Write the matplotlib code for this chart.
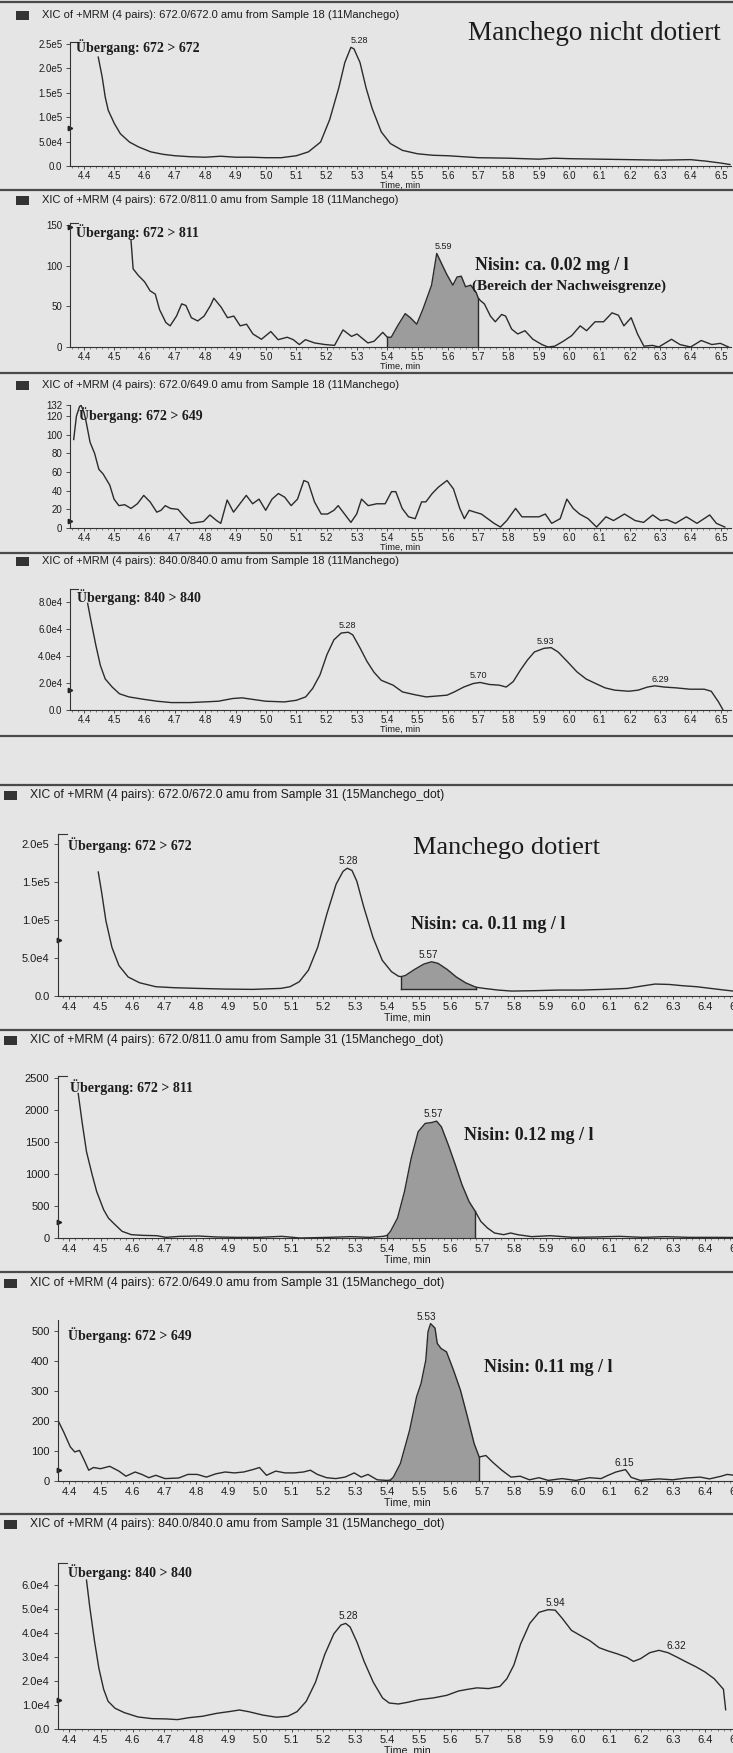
import numpy as np
import matplotlib
matplotlib.use('Agg')
import matplotlib.pyplot as plt
import matplotlib.ticker as mticker
import matplotlib.patches as mpatches
from matplotlib.lines import Line2D

# ---- traces: (time [min], intensity in units of the scale) ----
# Manchego nicht dotiert, 672 > 672 (x 1e3 cps)
trace_nd_672 = [(4.447, 223), (4.46, 182), (4.47, 141), (4.48, 114), (4.50, 87), (4.52, 66), (4.55, 49),
                (4.58, 39), (4.62, 29), (4.66, 24), (4.70, 21), (4.75, 19), (4.80, 18), (4.85, 20), (4.90, 18),
                (4.95, 18), (5.00, 17), (5.05, 17), (5.10, 21), (5.14, 29), (5.18, 49), (5.21, 95), (5.24, 160),
                (5.26, 212), (5.28, 243), (5.29, 240), (5.31, 212), (5.33, 160), (5.35, 118), (5.38, 70),
                (5.41, 46), (5.45, 32), (5.50, 25), (5.55, 22), (5.60, 21), (5.70, 17), (5.80, 16), (5.90, 14),
                (5.95, 16), (6.00, 15), (6.10, 14), (6.20, 13), (6.30, 12), (6.40, 13), (6.45, 10), (6.50, 6),
                (6.53, 3)]
# 672 > 811 (cps)
trace_nd_811 = [(4.555, 131), (4.562, 96), (4.579, 88), (4.60, 80), (4.618, 69), (4.635, 65), (4.649, 46),
                (4.67, 30), (4.684, 26), (4.705, 38), (4.722, 53), (4.736, 51), (4.754, 36), (4.775, 32),
                (4.796, 38), (4.817, 51), (4.828, 60), (4.852, 49), (4.873, 36), (4.894, 38), (4.915, 26),
                (4.936, 28), (4.957, 16), (4.985, 9.5), (5.016, 19), (5.04, 9), (5.07, 12), (5.09, 9),
                (5.11, 3), (5.13, 9), (5.16, 5), (5.195, 3), (5.226, 2), (5.254, 21), (5.282, 13), (5.30, 16),
                (5.336, 5), (5.356, 7), (5.385, 18), (5.40, 12), (5.413, 12), (5.434, 26), (5.459, 41),
                (5.476, 36), (5.497, 28), (5.518, 47), (5.546, 76), (5.563, 115), (5.595, 90), (5.616, 76),
                (5.63, 86), (5.644, 87), (5.658, 74), (5.675, 76), (5.693, 67), (5.70, 60), (5.707, 57),
                (5.72, 53), (5.74, 38), (5.756, 31), (5.777, 40), (5.79, 38), (5.81, 22), (5.83, 16),
                (5.854, 20), (5.88, 9.5), (5.91, 3), (5.93, 0), (5.952, 1), (5.98, 7), (6.008, 14),
                (6.036, 26), (6.057, 20), (6.085, 31), (6.113, 31), (6.141, 42), (6.162, 39), (6.18, 26),
                (6.204, 36), (6.225, 16), (6.246, 1), (6.274, 2), (6.295, 0), (6.337, 9.5), (6.365, 3),
                (6.40, 0), (6.435, 8), (6.47, 3), (6.498, 4.5), (6.525, 0)]
# 672 > 649 (cps)
trace_nd_649 = [(4.366, 95), (4.375, 120), (4.385, 130), (4.39, 132), (4.40, 124), (4.407, 114), (4.42, 92),
                (4.435, 80), (4.449, 63), (4.463, 58), (4.485, 46), (4.499, 31), (4.515, 24), (4.534, 25),
                (4.555, 21), (4.576, 26), (4.597, 35), (4.618, 28), (4.64, 17), (4.654, 19), (4.668, 24),
                (4.685, 21), (4.71, 20), (4.731, 12), (4.752, 5), (4.773, 6), (4.794, 7), (4.815, 14),
                (4.837, 8), (4.851, 5), (4.872, 30), (4.893, 17), (4.914, 26), (4.935, 35), (4.956, 26),
                (4.977, 31), (4.999, 19), (5.02, 31), (5.041, 37), (5.062, 33), (5.083, 24), (5.104, 31),
                (5.125, 51), (5.139, 49), (5.16, 28), (5.182, 15), (5.203, 15), (5.224, 19), (5.238, 24),
                (5.259, 15), (5.28, 6), (5.299, 15), (5.315, 31), (5.337, 24), (5.365, 26), (5.393, 26),
                (5.414, 39), (5.428, 39), (5.449, 21), (5.47, 12), (5.492, 10), (5.513, 28), (5.527, 28),
                (5.548, 37), (5.569, 44), (5.597, 51), (5.618, 42), (5.639, 21), (5.654, 10), (5.67, 19),
                (5.689, 17), (5.71, 15), (5.731, 10), (5.752, 5), (5.773, 1), (5.794, 8), (5.823, 21),
                (5.844, 12), (5.872, 12), (5.9, 12), (5.921, 15), (5.942, 5), (5.97, 10), (5.992, 31),
                (6.013, 21), (6.034, 15), (6.062, 10), (6.09, 1), (6.121, 12), (6.146, 8), (6.182, 15),
                (6.217, 8), (6.245, 6), (6.275, 14), (6.301, 8), (6.322, 9), (6.35, 5), (6.386, 12),
                (6.421, 5), (6.463, 14), (6.485, 5), (6.513, 1)]
# 840 > 840 (x 1e4 cps)
trace_nd_840 = [(4.412, 7.9), (4.423, 6.6), (4.439, 4.8), (4.454, 3.3), (4.47, 2.3), (4.493, 1.7), (4.517, 1.2),
                (4.548, 0.97), (4.594, 0.8), (4.641, 0.65), (4.688, 0.55), (4.75, 0.55), (4.797, 0.6),
                (4.843, 0.65), (4.89, 0.85), (4.921, 0.9), (4.952, 0.8), (4.999, 0.65), (5.061, 0.6),
                (5.1, 0.72), (5.131, 0.97), (5.154, 1.6), (5.178, 2.6), (5.201, 4.1), (5.224, 5.2),
                (5.248, 5.7), (5.271, 5.76), (5.286, 5.57), (5.31, 4.6), (5.333, 3.6), (5.356, 2.8),
                (5.38, 2.2), (5.419, 1.84), (5.45, 1.34), (5.489, 1.14), (5.528, 0.97), (5.566, 1.04),
                (5.597, 1.1), (5.621, 1.34), (5.652, 1.7), (5.683, 1.96), (5.706, 2.04), (5.737, 1.89),
                (5.769, 1.84), (5.792, 1.7), (5.815, 2.1), (5.839, 2.96), (5.862, 3.7), (5.885, 4.3),
                (5.917, 4.57), (5.94, 4.62), (5.963, 4.3), (5.994, 3.58), (6.025, 2.83), (6.056, 2.29),
                (6.087, 1.96), (6.118, 1.64), (6.15, 1.47), (6.196, 1.39), (6.227, 1.47), (6.258, 1.7),
                (6.282, 1.79), (6.313, 1.7), (6.352, 1.64), (6.398, 1.54), (6.445, 1.54), (6.468, 1.39),
                (6.492, 0.6), (6.507, 0.0)]

# Manchego dotiert, 672 > 672 (x 1e4 cps)
trace_d_672 = [(4.492, 16.3), (4.502, 13.8), (4.516, 9.9), (4.535, 6.4), (4.557, 4.0), (4.586, 2.5),
               (4.622, 1.74), (4.673, 1.22), (4.731, 1.09), (4.804, 1.0), (4.891, 0.91), (4.978, 0.87),
               (5.066, 1.0), (5.095, 1.22), (5.124, 1.87), (5.153, 3.4), (5.182, 6.4), (5.211, 10.8),
               (5.24, 14.7), (5.262, 16.4), (5.275, 16.8), (5.29, 16.5), (5.305, 15.1), (5.327, 11.7),
               (5.356, 7.7), (5.385, 4.7), (5.414, 3.2), (5.436, 2.6), (5.445, 2.55), (5.458, 2.7),
               (5.487, 3.5), (5.516, 4.2), (5.54, 4.5), (5.56, 4.3), (5.589, 3.5), (5.618, 2.5),
               (5.647, 1.74), (5.68, 1.15), (5.705, 1.0), (5.749, 0.78), (5.792, 0.65), (5.865, 0.7),
               (5.938, 0.78), (6.01, 0.78), (6.083, 0.87), (6.156, 1.0), (6.2, 1.3), (6.243, 1.57),
               (6.287, 1.52), (6.33, 1.35), (6.374, 1.22), (6.417, 1.0), (6.461, 0.78), (6.5, 0.6)]
# 672 > 811 (cps)
trace_d_811 = [(4.429, 2256), (4.441, 1815), (4.455, 1348), (4.473, 985), (4.487, 726), (4.509, 441),
               (4.524, 311), (4.545, 207), (4.567, 104), (4.596, 52), (4.633, 41), (4.676, 36), (4.705, 10),
               (4.749, 26), (4.807, 31), (4.865, 16), (4.924, 10), (4.996, 10), (5.069, 26), (5.127, 0),
               (5.215, 10), (5.287, 21), (5.345, 10), (5.389, 26), (5.40, 40), (5.411, 104), (5.433, 311),
               (5.455, 726), (5.476, 1245), (5.498, 1660), (5.52, 1789), (5.542, 1805), (5.556, 1825),
               (5.571, 1737), (5.593, 1452), (5.615, 1141), (5.636, 830), (5.658, 570), (5.677, 420),
               (5.695, 259), (5.716, 156), (5.738, 78), (5.767, 52), (5.789, 78), (5.811, 52), (5.855, 21),
               (5.913, 36), (5.985, 10), (6.058, 16), (6.131, 26), (6.204, 10), (6.276, 21), (6.349, 10),
               (6.436, 10), (6.5, 8)]
# 672 > 649 (cps)
trace_d_649 = [(4.365, 203), (4.383, 164), (4.404, 114), (4.418, 97), (4.433, 102), (4.448, 69), (4.462, 36),
               (4.477, 45), (4.499, 41), (4.528, 49), (4.557, 33), (4.579, 16), (4.608, 30), (4.629, 22),
               (4.651, 11), (4.673, 19), (4.702, 8), (4.745, 10), (4.774, 22), (4.803, 22), (4.832, 13),
               (4.862, 24), (4.891, 30), (4.92, 27), (4.949, 30), (4.978, 38), (4.999, 45), (5.021, 19),
               (5.05, 33), (5.079, 27), (5.108, 27), (5.137, 30), (5.159, 36), (5.181, 22), (5.21, 11),
               (5.239, 8), (5.268, 13), (5.297, 27), (5.319, 13), (5.34, 22), (5.369, 4), (5.399, 2),
               (5.41, 3), (5.42, 13), (5.442, 58), (5.471, 169), (5.493, 281), (5.507, 325), (5.522, 403),
               (5.529, 498), (5.537, 525), (5.551, 510), (5.558, 459), (5.57, 442), (5.587, 431),
               (5.609, 370), (5.631, 303), (5.653, 214), (5.674, 125), (5.69, 80), (5.711, 85), (5.732, 63),
               (5.761, 36), (5.79, 13), (5.819, 16), (5.848, 4), (5.878, 11), (5.907, 2), (5.95, 8),
               (5.994, 2), (6.037, 11), (6.073, 8), (6.095, 19), (6.12, 30), (6.15, 38), (6.168, 12),
               (6.197, 2), (6.255, 7), (6.298, 4), (6.342, 10), (6.385, 13), (6.414, 7), (6.451, 16),
               (6.47, 22), (6.5, 18)]
# 840 > 840 (x 1e4 cps)
trace_d_840 = [(4.455, 6.19), (4.465, 5.1), (4.48, 3.67), (4.494, 2.52), (4.509, 1.65), (4.523, 1.15),
               (4.545, 0.86), (4.574, 0.68), (4.617, 0.5), (4.661, 0.43), (4.704, 0.42), (4.741, 0.39),
               (4.777, 0.47), (4.82, 0.53), (4.864, 0.65), (4.907, 0.73), (4.936, 0.79), (4.965, 0.72),
               (5.009, 0.58), (5.052, 0.49), (5.088, 0.53), (5.117, 0.72), (5.146, 1.15), (5.175, 1.94),
               (5.204, 3.09), (5.233, 3.96), (5.255, 4.32), (5.27, 4.39), (5.284, 4.24), (5.306, 3.6),
               (5.328, 2.81), (5.357, 1.94), (5.386, 1.29), (5.407, 1.08), (5.436, 1.04), (5.465, 1.11),
               (5.501, 1.22), (5.545, 1.29), (5.588, 1.4), (5.625, 1.58), (5.654, 1.65), (5.683, 1.71),
               (5.719, 1.68), (5.755, 1.77), (5.777, 2.09), (5.799, 2.66), (5.82, 3.53), (5.849, 4.39),
               (5.878, 4.85), (5.907, 4.96), (5.929, 4.94), (5.951, 4.6), (5.98, 4.1), (6.009, 3.88),
               (6.038, 3.67), (6.067, 3.38), (6.096, 3.24), (6.125, 3.12), (6.154, 2.98), (6.175, 2.81),
               (6.197, 2.92), (6.226, 3.17), (6.255, 3.27), (6.284, 3.17), (6.313, 2.98), (6.342, 2.78),
               (6.371, 2.59), (6.4, 2.37), (6.429, 2.09), (6.458, 1.65), (6.465, 0.8)]

# peak labels (retention time text, time of peak)
peaks_nd_672 = [('5.28', 5.28)]
peaks_nd_811 = [('5.59', 5.585)]
peaks_nd_840 = [('5.28', 5.27), ('5.70', 5.70), ('5.93', 5.92), ('6.29', 6.30)]
peaks_d_672 = [('5.28', 5.277), ('5.57', 5.53)]
peaks_d_811 = [('5.57', 5.545)]
peaks_d_649 = [('5.53', 5.525), ('6.15', 6.145)]
peaks_d_840 = [('5.28', 5.277), ('5.94', 5.928), ('6.32', 6.31)]

# headers
header_nd = ['XIC of +MRM (4 pairs): 672.0/672.0 amu from Sample 18 (11Manchego)',
             'XIC of +MRM (4 pairs): 672.0/811.0 amu from Sample 18 (11Manchego)',
             'XIC of +MRM (4 pairs): 672.0/649.0 amu from Sample 18 (11Manchego)',
             'XIC of +MRM (4 pairs): 840.0/840.0 amu from Sample 18 (11Manchego)']
header_d = ['XIC of +MRM (4 pairs): 672.0/672.0 amu from Sample 31 (15Manchego_dot)',
            'XIC of +MRM (4 pairs): 672.0/811.0 amu from Sample 31 (15Manchego_dot)',
            'XIC of +MRM (4 pairs): 672.0/649.0 amu from Sample 31 (15Manchego_dot)',
            'XIC of +MRM (4 pairs): 840.0/840.0 amu from Sample 31 (15Manchego_dot)']

W = 733
H = 1753
sSans = ['Liberation Sans', 'DejaVu Sans']
sSerif = ['Liberation Serif', 'DejaVu Serif']
cLine = '#2b2b2b'
cFill = '#9c9c9c'
cText = '#1c1c1c'

fig = plt.figure(figsize=(W / 100.0, H / 100.0), dpi=100)
fig.patch.set_facecolor('#e5e5e5')


def fy(y):
    return 1.0 - y / H


def ftext(x, y, s, **kw):
    fig.text(x / W, fy(y), s, va='center', ha='left', color=cText, **kw)


def sep_line(y):
    fig.add_artist(Line2D([0, 1], [fy(y), fy(y)], transform=fig.transFigure, color='#4a4a4a', lw=1.6))


def header(y, xbox, s, size):
    fig.add_artist(mpatches.Rectangle((xbox / W, fy(y + 4.5)), 13.0 / W, 9.0 / H,
                                      transform=fig.transFigure, color='#333333', lw=0))
    ftext(xbox + 26, y, s, fontsize=size, family=sSans)


def panel(trace, dScale, dLeft, dPxMin, aXlim, dY0, dYtop, dYmax, aYtick, aYlabel, dFont, dPad,
          dMark, bFlag=True):
    dRight = dLeft + (aXlim[1] - aXlim[0]) * dPxMin
    ax = fig.add_axes([dLeft / W, fy(dY0), (dRight - dLeft) / W, (dY0 - dYtop) / H])
    ax.set_facecolor('none')
    aT = np.array([p[0] for p in trace])
    aV = np.array([p[1] for p in trace]) * dScale
    ax.plot(aT, aV, color=cLine, lw=1.0)
    ax.set_xlim(aXlim)
    ax.set_ylim(0, dYmax)
    for s in ['top', 'right']:
        ax.spines[s].set_visible(False)
    for s in ['left', 'bottom']:
        ax.spines[s].set_color('#333333')
        ax.spines[s].set_linewidth(0.8)
    ax.xaxis.set_major_locator(mticker.MultipleLocator(0.1))
    ax.xaxis.set_minor_locator(mticker.MultipleLocator(0.02))
    ax.xaxis.set_major_formatter(mticker.FormatStrFormatter('%.1f'))
    ax.set_yticks(aYtick)
    ax.set_yticklabels(aYlabel)
    ax.tick_params(axis='both', which='major', labelsize=dFont, width=0.6,
                   colors='#333333', labelcolor=cText)
    ax.tick_params(axis='x', which='major', length=2.5, pad=dPad)
    ax.tick_params(axis='y', which='major', length=3.0, pad=dPad + 1.5)
    ax.tick_params(axis='x', which='minor', length=1.3, width=0.5, colors='#555555')
    for lab in ax.get_xticklabels() + ax.get_yticklabels():
        lab.set_family(sSans)
    ax.set_xlabel('Time, min', fontsize=dFont - 0.3, family=sSans, color=cText, labelpad=0.3)
    ax.plot([aXlim[0]], [dMark], marker='>', ms=3.2, color='#222222', clip_on=False)
    if bFlag:
        ax.plot([0, 8.0 / (dRight - dLeft)], [1, 1], transform=ax.transAxes, color='#333333', lw=0.8,
                clip_on=False)
    return ax, aT, aV


def shade(ax, aT, aV, t0, t1, dBase):
    m = (aT >= t0 - 1e-9) & (aT <= t1 + 1e-9)
    ax.fill_between(aT[m], aV[m], dBase, color=cFill, lw=0)
    ax.plot([t0, t0], [dBase, aV[m][0]], color=cLine, lw=1.0)
    ax.plot([t1, t1], [dBase, aV[m][-1]], color=cLine, lw=1.0)
    if dBase > 0:
        ax.plot([t0, t1], [dBase, dBase], color=cLine, lw=1.0)


def peak_labels(ax, aT, aV, aPeaks, dFont, sHa='center'):
    for sLab, t in aPeaks:
        v = aV[np.abs(aT - t) < 0.03].max()
        ax.annotate(sLab, (t, v), xytext=(0, 1.5), textcoords='offset points', ha=sHa, va='bottom',
                    fontsize=dFont, family=sSans, color=cText)


# ---------------- upper block: Manchego nicht dotiert ----------------
px_top = 303.3
xlim_top = (4.4 - 14.0 / px_top, 4.4 + (731.0 - 84.0) / px_top)
for y in [2, 190, 373, 553, 736]:
    sep_line(y)
for y, s in zip([15, 200, 385, 561], header_nd):
    header(y, 16, s, 8.0)

ax, aT, aV = panel(trace_nd_672, 1e3, 70, px_top, xlim_top, 166, 41.5, 2.55e5,
                   [0, 5e4, 1e5, 1.5e5, 2e5, 2.5e5], ['0.0', '5.0e4', '1.0e5', '1.5e5', '2.0e5', '2.5e5'],
                   7.0, 1.0, 0.78e5)
peak_labels(ax, aT, aV, peaks_nd_672, 6.5, 'left')
ftext(76, 47, 'Übergang: 672 > 672', fontsize=10, family=sSerif, weight='bold')
ftext(468, 33, 'Manchego nicht dotiert', fontsize=19.5, family=sSerif)

ax, aT, aV = panel(trace_nd_811, 1.0, 70, px_top, xlim_top, 347, 222.5, 153,
                   [0, 50, 100, 150], ['0', '50', '100', '150'], 7.0, 1.0, 148)
shade(ax, aT, aV, 5.40, 5.70, 0)
peak_labels(ax, aT, aV, peaks_nd_811, 6.5)
ftext(76, 232, 'Übergang: 672 > 811', fontsize=10, family=sSerif, weight='bold')
ftext(475, 265, 'Nisin: ca. 0.02 mg / l', fontsize=12.8, family=sSerif, weight='bold')
ftext(472, 286, '(Bereich der Nachweisgrenze)', fontsize=11.0, family=sSerif, weight='bold')

ax, aT, aV = panel(trace_nd_649, 1.0, 70, px_top, xlim_top, 528, 405, 132,
                   [0, 20, 40, 60, 80, 100, 120, 132], ['0', '20', '40', '60', '80', '100', '120', '132'],
                   7.0, 1.0, 8, bFlag=False)
ftext(79, 415, 'Übergang: 672 > 649', fontsize=10, family=sSerif, weight='bold')

ax, aT, aV = panel(trace_nd_840, 1e4, 70, px_top, xlim_top, 710, 588.5, 9.0e4,
                   [0, 2e4, 4e4, 6e4, 8e4], ['0.0', '2.0e4', '4.0e4', '6.0e4', '8.0e4'],
                   7.0, 1.0, 1.5e4)
peak_labels(ax, aT, aV, peaks_nd_840, 6.5)
ftext(77, 597, 'Übergang: 840 > 840', fontsize=10, family=sSerif, weight='bold')

# ---------------- lower block: Manchego dotiert ----------------
px_bot = 318.0
xlim_bot = (4.4 - 10.5 / px_bot, 6.56)
for y in [785, 1030, 1272, 1514]:
    sep_line(y)
for y, s in zip([795, 1040, 1283, 1524], header_d):
    header(y, 4, s, 8.7)

ax, aT, aV = panel(trace_d_672, 1e4, 58.5, px_bot, xlim_bot, 996, 834, 2.13e5,
                   [0, 5e4, 1e5, 1.5e5, 2e5], ['0.0', '5.0e4', '1.0e5', '1.5e5', '2.0e5'],
                   8.0, 2.0, 7.4e4)
shade(ax, aT, aV, 5.445, 5.68, 0.87e4)
peak_labels(ax, aT, aV, peaks_d_672, 7.2)
ftext(68, 845, 'Übergang: 672 > 672', fontsize=10, family=sSerif, weight='bold')
ftext(413, 848, 'Manchego dotiert', fontsize=19, family=sSerif)
ftext(411, 925, 'Nisin: ca. 0.11 mg / l', fontsize=13, family=sSerif, weight='bold')

ax, aT, aV = panel(trace_d_811, 1.0, 58.5, px_bot, xlim_bot, 1238, 1076, 2530,
                   [0, 500, 1000, 1500, 2000, 2500], ['0', '500', '1000', '1500', '2000', '2500'],
                   8.0, 2.0, 250)
shade(ax, aT, aV, 5.40, 5.677, 0)
peak_labels(ax, aT, aV, peaks_d_811, 7.2)
ftext(70, 1087, 'Übergang: 672 > 811', fontsize=10, family=sSerif, weight='bold')
ftext(464, 1135, 'Nisin: 0.12 mg / l', fontsize=13, family=sSerif, weight='bold')

ax, aT, aV = panel(trace_d_649, 1.0, 58.5, px_bot, xlim_bot, 1481, 1320, 537,
                   [0, 100, 200, 300, 400, 500], ['0', '100', '200', '300', '400', '500'],
                   8.0, 2.0, 37, bFlag=False)
shade(ax, aT, aV, 5.41, 5.69, 0)
peak_labels(ax, aT, aV, peaks_d_649, 7.2)
ftext(68, 1335, 'Übergang: 672 > 649', fontsize=10, family=sSerif, weight='bold')
ftext(484, 1367, 'Nisin: 0.11 mg / l', fontsize=13, family=sSerif, weight='bold')

ax, aT, aV = panel(trace_d_840, 1e4, 58.5, px_bot, xlim_bot, 1729, 1563, 6.9e4,
                   [0, 1e4, 2e4, 3e4, 4e4, 5e4, 6e4],
                   ['0.0', '1.0e4', '2.0e4', '3.0e4', '4.0e4', '5.0e4', '6.0e4'],
                   8.0, 2.0, 1.2e4)
peak_labels(ax, aT, aV, peaks_d_840, 7.2)
ftext(68, 1572, 'Übergang: 840 > 840', fontsize=10, family=sSerif, weight='bold')

fig.savefig('out.png', dpi=100, facecolor=fig.get_facecolor())
plt.close(fig)
